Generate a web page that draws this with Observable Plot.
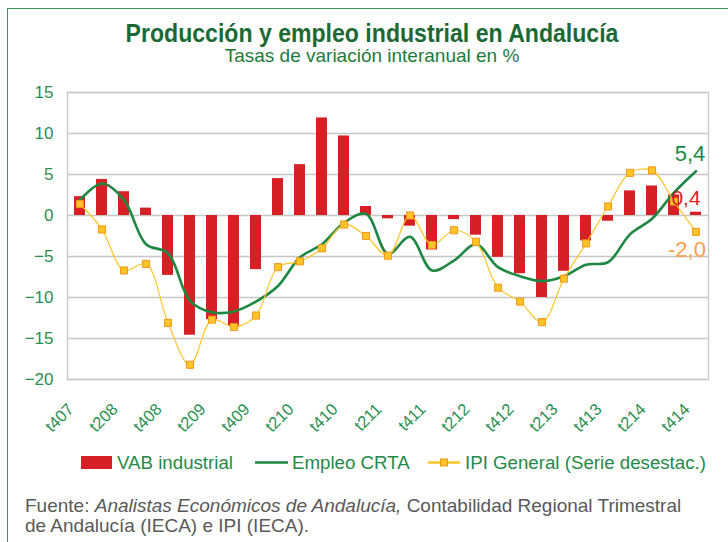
<!DOCTYPE html>
<html>
<head>
<meta charset="utf-8">
<script src="https://cdn.jsdelivr.net/npm/d3@7"></script>
<script src="https://cdn.jsdelivr.net/npm/@observablehq/plot@0.6"></script>
<style>
  html, body { margin: 0; padding: 0; background: #fff; }
  #wrap { position: relative; width: 728px; height: 542px; overflow: hidden; font-family: "Liberation Sans", Arial, sans-serif; }
  #frame { position: absolute; left: 7px; top: 8px; width: 730px; height: 540px; border-top: 1.5px solid #3e9a5c; border-left: 1.5px solid #3e9a5c; }
  #title { position: absolute; left: 0; width: 744px; top: 18px; text-align: center; font-family: "Liberation Sans", Arial, sans-serif; font-weight: bold; font-size: 25.5px; color: #1b6a35; line-height: 30px; transform: scaleX(0.905); transform-origin: 372px 50%; }
  #subtitle { position: absolute; left: 0; width: 744px; top: 46px; text-align: center; font-size: 19px; color: #1f7a3e; line-height: 20px; }
  #chart { position: absolute; left: 0; top: 80px; }
  #foot { position: absolute; left: 25px; top: 496px; font-size: 19px; color: #595959; line-height: 20px; white-space: nowrap; }
</style>
</head>
<body>
<div id="wrap">
  <div id="frame"></div>
  <div id="title">Producción y empleo industrial en Andalucía</div>
  <div id="subtitle">Tasas de variación interanual en %</div>
  <div id="chart"></div>
  <div id="foot">Fuente: <i>Analistas Económicos de Andalucía,</i> Contabilidad Regional Trimestral<br>de Andalucía (IECA) e IPI (IECA).</div>
</div>
<script>
const quarters = ["t407","t108","t208","t308","t408","t109","t209","t309","t409","t110","t210","t310","t410","t111","t211","t311","t411","t112","t212","t312","t412","t113","t213","t313","t413","t114","t214","t314","t414"];
const vabIndustrial = [2.3, 4.4, 2.9, 0.9, -7.3, -14.6, -12.7, -13.5, -6.6, 4.5, 6.2, 11.9, 9.7, 1.1, -0.4, -1.3, -4.2, -0.5, -2.4, -5.1, -7.1, -10.0, -6.8, -3.1, -0.7, 3.0, 3.6, 2.5, 0.4];
const empleoCRTA = [1.9, 3.9, 1.9, -3.5, -4.6, -10.4, -11.8, -11.7, -10.5, -8.6, -5.1, -3.5, -0.9, 0.2, -4.7, -2.6, -6.7, -5.5, -3.5, -6.3, -7.4, -8.0, -7.4, -6.0, -5.7, -2.3, -0.4, 2.8, 5.4];
const ipiGeneral = [1.4, -1.7, -6.7, -5.9, -13.1, -18.2, -12.7, -13.6, -12.2, -6.3, -5.6, -4.0, -1.1, -2.5, -4.9, 0.0, -3.6, -1.8, -3.2, -8.8, -10.5, -13.0, -7.7, -3.4, 1.1, 5.2, 5.5, 1.7, -2.0];
const yTicks = [-20, -15, -10, -5, 0, 5, 10, 15];
const xTickLabels = quarters.filter((d, i) => i % 2 === 0);
const seriesNames = ["VAB industrial", "Empleo CRTA", "IPI General (Serie desestac.)"];

const C_RED = "#d81f26", C_GREEN = "#1e8741", C_YEL = "#ffc526", C_ORG = "#f4961e", C_TXT = "#2a8f4e";

const data = quarters.map((q, i) => ({q, vab: vabIndustrial[i], emp: empleoCRTA[i], ipi: ipiGeneral[i]}));
const last = data[data.length - 1];
const fmt = v => d3.format(".1f")(v).replace(".", ",").replace("\u2212", "-");

const plot = Plot.plot({
  width: 728,
  height: 370,
  marginTop: 12,
  marginBottom: 71,
  marginLeft: 67,
  marginRight: 20,
  style: {fontFamily: "Liberation Sans, Arial, sans-serif", background: "transparent", overflow: "visible"},
  x: {type: "band", domain: quarters, paddingInner: 0.52, paddingOuter: 0.26, label: null, axis: null},
  y: {domain: [-20, 15], label: null},
  marks: [
    Plot.ruleY(yTicks, {stroke: "#c6c6c6", strokeWidth: 1.3}),
    Plot.frame({stroke: "#c6c6c6", strokeWidth: 1.3}),
    Plot.barY(data, {x: "q", y: "vab", fill: C_RED}),
    Plot.line(data, {x: "q", y: "emp", stroke: C_GREEN, strokeWidth: 2.6, curve: "catmull-rom"}),
    Plot.line(data, {x: "q", y: "ipi", stroke: C_YEL, strokeWidth: 1.2, curve: "catmull-rom"}),
    Plot.dot(data, {x: "q", y: "ipi", symbol: "square", r: 4, fill: C_YEL, stroke: C_ORG, strokeWidth: 1}),
    Plot.text([last], {x: "q", y: "emp", text: d => fmt(d.emp), fill: C_GREEN, fontSize: 22, dx: -6, dy: -17}),
    Plot.text([last], {x: "q", y: "vab", text: d => fmt(d.vab), fill: C_RED, fontSize: 21, dx: -10, dy: -14}),
    Plot.text([last], {x: "q", y: "ipi", text: d => fmt(d.ipi), fill: "#f7a04a", fontSize: 22, dx: -9, dy: 18}),
    Plot.axisY(yTicks, {tickSize: 0, tickPadding: 14, fontSize: 17, color: C_TXT}),
    Plot.text(xTickLabels, {x: d => d, frameAnchor: "bottom", text: d => d, rotate: -45, textAnchor: "end", lineAnchor: "middle", dx: -9, dy: 27, fontSize: 16.5, fill: C_TXT})
  ]
});
document.getElementById("chart").appendChild(plot);

// legend
const wrap = document.getElementById("wrap");
const legSvg = d3.select(wrap).append("svg")
  .attr("width", 728).attr("height", 30)
  .style("position", "absolute").style("left", "0px").style("top", "448px");
legSvg.append("rect").attr("x", 81).attr("y", 8).attr("width", 31).attr("height", 13).attr("fill", C_RED);
legSvg.append("line").attr("x1", 255).attr("x2", 288).attr("y1", 14.5).attr("y2", 14.5).attr("stroke", C_GREEN).attr("stroke-width", 2.6);
legSvg.append("line").attr("x1", 428).attr("x2", 460).attr("y1", 14.5).attr("y2", 14.5).attr("stroke", C_YEL).attr("stroke-width", 2.5);
legSvg.append("rect").attr("x", 440.5).attr("y", 11).attr("width", 7).attr("height", 7).attr("fill", C_YEL).attr("stroke", C_ORG);
const legX = [117, 292, 465];
seriesNames.forEach((name, i) => {
  legSvg.append("text").attr("x", legX[i]).attr("y", 21).attr("fill", "#248a48")
    .style("font-family", "Liberation Sans, Arial, sans-serif").style("font-size", "18.7px").text(name);
});
</script>
</body>
</html>
